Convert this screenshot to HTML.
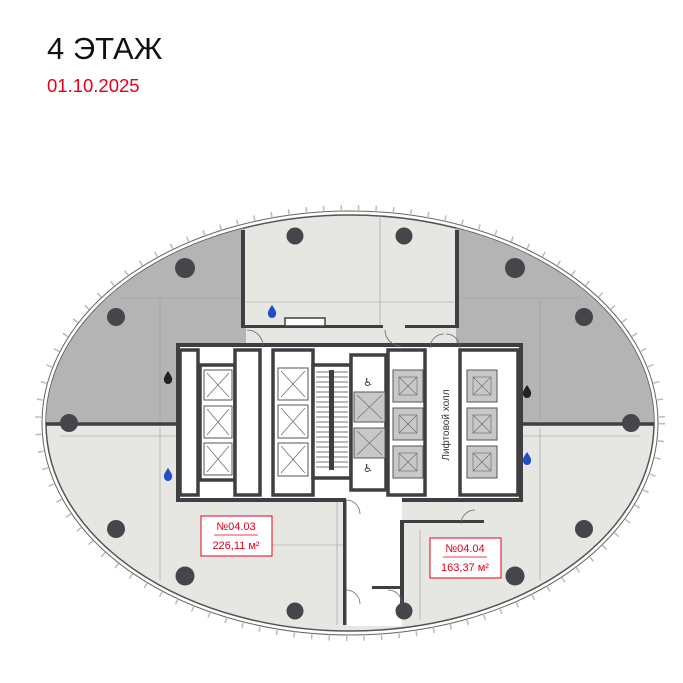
<!DOCTYPE html>
<html><head><meta charset="utf-8">
<style>
html,body{margin:0;padding:0;background:#fff;width:683px;height:683px;overflow:hidden}
.t{position:absolute;left:47px;top:31px;font:31px "Liberation Sans",sans-serif;color:#111}
.d{position:absolute;left:47px;top:75px;font:18.5px "Liberation Sans",sans-serif;color:#e3001b}
svg{position:absolute;left:0;top:0}
</style></head><body>
<div class="t">4 ЭТАЖ</div>
<div class="d">01.10.2025</div>
<svg width="683" height="683" viewBox="0 0 683 683">
<defs>
<clipPath id="el"><ellipse cx="350" cy="423" rx="304" ry="208"/></clipPath>
</defs>
<ellipse cx="350" cy="423" rx="308" ry="212" fill="none" stroke="#666" stroke-width="1"/>
<ellipse cx="350" cy="423" rx="312" ry="215" fill="none" stroke="#bbb" stroke-width="6" stroke-dasharray="1.5 16"/>
<ellipse cx="350" cy="423" rx="304" ry="208" fill="#e6e7e3" stroke="#555" stroke-width="1.5"/>
<g clip-path="url(#el)">
<polygon points="40,200 243,200 243,327 246,327 246,347 180,347 180,424 40,424" fill="#b4b4b4"/>
<polygon points="456,200 660,200 660,424 520,424 520,347 456,347" fill="#b4b4b4"/>
<line x1="40" y1="424" x2="180" y2="424" stroke="#3f3f42" stroke-width="3.5"/>
<line x1="520" y1="424" x2="660" y2="424" stroke="#3f3f42" stroke-width="3.5"/>
<g stroke="#999" stroke-width="0.6" fill="none">
<line x1="120" y1="298" x2="240" y2="298"/><line x1="160" y1="300" x2="160" y2="420"/>
<line x1="460" y1="298" x2="580" y2="298"/><line x1="540" y1="300" x2="540" y2="420"/>
<line x1="60" y1="436" x2="178" y2="436"/><line x1="520" y1="436" x2="640" y2="436"/>
<line x1="160" y1="428" x2="160" y2="580"/><line x1="540" y1="428" x2="540" y2="580"/>
<line x1="246" y1="302" x2="454" y2="302"/><line x1="380" y1="215" x2="380" y2="325"/>
<line x1="337" y1="500" x2="337" y2="625"/><line x1="420" y1="530" x2="420" y2="620"/>
<line x1="260" y1="545" x2="345" y2="545"/>
</g>
</g>
<rect x="241" y="230" width="4" height="98" fill="#3f3f42"/>
<rect x="455" y="230" width="4" height="98" fill="#3f3f42"/>
<rect x="243" y="325" width="140" height="3" fill="#3f3f42"/>
<rect x="405" y="325" width="52" height="3" fill="#3f3f42"/>
<rect x="285" y="318" width="40" height="8" fill="#fff" stroke="#3f3f42" stroke-width="1.5"/>
<rect x="178" y="345" width="343" height="155" fill="#fff" stroke="#3f3f42" stroke-width="4"/>
<rect x="346" y="498" width="56" height="128" fill="#fff"/>
<rect x="343" y="500" width="3.5" height="125" fill="#3f3f42"/>
<rect x="400" y="520" width="4" height="86" fill="#3f3f42"/>
<rect x="400" y="520" width="84" height="3" fill="#3f3f42"/>
<rect x="372" y="586" width="30" height="3" fill="#3f3f42"/>
<g fill="#fff" stroke="#3f3f42" stroke-width="3.5">
<rect x="180" y="350" width="18" height="145"/>
<rect x="200" y="365" width="35" height="115"/>
<rect x="235" y="350" width="25" height="145"/>
<rect x="273" y="350" width="40" height="145"/>
<rect x="313" y="365" width="38" height="113"/>
<rect x="351" y="355" width="35" height="135"/>
<rect x="388" y="350" width="37" height="145"/>
<rect x="460" y="350" width="58" height="145"/>
</g>
<g fill="#fff" stroke="#555" stroke-width="1">
<rect x="204" y="370" width="28" height="30"/><rect x="204" y="406" width="28" height="32"/><rect x="204" y="443" width="28" height="32"/>
<rect x="278" y="368" width="30" height="32"/><rect x="278" y="405" width="30" height="33"/><rect x="278" y="443" width="30" height="33"/>
</g>
<g stroke="#666" stroke-width="0.7">
<path d="M207 373L229 397M229 373L207 397M207 409L229 435M229 409L207 435M207 446L229 472M229 446L207 472"/>
<path d="M281 371L305 397M305 371L281 397M281 408L305 435M305 408L281 435M281 446L305 473M305 446L281 473"/>
</g>
<g stroke="#444" stroke-width="0.8">
<path d="M316 372H348M316 377H348M316 382H348M316 387H348M316 392H348M316 397H348M316 402H348M316 407H348M316 412H348M316 417H348M316 422H348M316 427H348M316 432H348M316 437H348M316 442H348M316 447H348M316 452H348M316 457H348M316 462H348M316 467H348"/>
</g>
<rect x="329" y="370" width="5" height="100" fill="#3f3f42"/>
<g fill="#c8c8c8" stroke="#555" stroke-width="1">
<rect x="354" y="392" width="31" height="30"/><rect x="354" y="428" width="31" height="30"/>
<rect x="393" y="370" width="30" height="32"/><rect x="393" y="408" width="30" height="32"/><rect x="393" y="446" width="30" height="32"/>
<rect x="467" y="370" width="30" height="32"/><rect x="467" y="408" width="30" height="32"/><rect x="467" y="446" width="30" height="32"/>
</g>
<g fill="none" stroke="#666" stroke-width="0.6">
<rect x="399" y="377" width="18" height="18"/><rect x="399" y="415" width="18" height="18"/><rect x="399" y="453" width="18" height="18"/>
<rect x="473" y="377" width="18" height="18"/><rect x="473" y="415" width="18" height="18"/><rect x="473" y="453" width="18" height="18"/>
<path d="M399 377L417 395M417 377L399 395M399 415L417 433M417 415L399 433M399 453L417 471M417 453L399 471M473 377L491 395M491 377L473 395M473 415L491 433M491 415L473 433M473 453L491 471M491 453L473 471M357 395L382 419M382 395L357 419M357 431L382 455M382 431L357 455"/>
</g>
<text x="368" y="386" font-size="11" text-anchor="middle" fill="#333" font-family="DejaVu Sans">♿</text>
<text x="368" y="472" font-size="11" text-anchor="middle" fill="#333" font-family="DejaVu Sans">♿</text>
<text transform="translate(449,425) rotate(-90)" font-size="10" text-anchor="middle" fill="#333" font-family="Liberation Sans, sans-serif">Лифтовой холл</text>
<g fill="none" stroke="#666" stroke-width="0.8">
<path d="M247 330 A16 16 0 0 1 263 346"/><path d="M385 330 A16 16 0 0 0 401 346"/>
<path d="M430 348 A14 14 0 0 1 444 334"/><path d="M460 348 A14 14 0 0 0 446 334"/>
<path d="M346 500 A14 14 0 0 1 360 514"/><path d="M475 510 A14 14 0 0 0 461 524"/>
<path d="M402 604 A14 14 0 0 0 388 590"/><path d="M346 590 A14 14 0 0 1 360 604"/>
</g>
<g fill="#46464a">
<circle cx="295" cy="236" r="8.5"/><circle cx="404" cy="236" r="8.5"/>
<circle cx="185" cy="268" r="10"/><circle cx="515" cy="268" r="10"/>
<circle cx="116" cy="317" r="9"/><circle cx="584" cy="317" r="9"/>
<circle cx="69" cy="423" r="9"/><circle cx="631" cy="423" r="9"/>
<circle cx="116" cy="529" r="9"/><circle cx="584" cy="529" r="9"/>
<circle cx="185" cy="576" r="9.5"/><circle cx="515" cy="576" r="9.5"/>
<circle cx="295" cy="611" r="8.5"/><circle cx="404" cy="611" r="8.5"/>
</g>
<g>
<path d="M272 305 q-5 7 -4 9 a4 4 0 0 0 8 0 q1 -2 -4 -9z" fill="#1f4fc7"/>
<path d="M168 468 q-5 7 -4 9 a4 4 0 0 0 8 0 q1 -2 -4 -9z" fill="#1f4fc7"/>
<path d="M527 452 q-5 7 -4 9 a4 4 0 0 0 8 0 q1 -2 -4 -9z" fill="#1f4fc7"/>
<path d="M168 371 q-5 7 -4 9 a4 4 0 0 0 8 0 q1 -2 -4 -9z" fill="#222"/>
<path d="M527 385 q-5 7 -4 9 a4 4 0 0 0 8 0 q1 -2 -4 -9z" fill="#222"/>
</g>
<g font-family="Liberation Sans, sans-serif" font-size="11" fill="#e3001b" text-anchor="middle">
<rect x="201" y="516" width="71" height="40" fill="#fff" stroke="#e3001b" stroke-width="1"/>
<text x="236" y="530">№04.03</text>
<line x1="214" y1="535" x2="258" y2="535" stroke="#e3001b" stroke-width="0.8"/>
<text x="236" y="549">226,11 м²</text>
<rect x="430" y="538" width="71" height="40" fill="#fff" stroke="#e3001b" stroke-width="1"/>
<text x="465" y="552">№04.04</text>
<line x1="443" y1="557" x2="487" y2="557" stroke="#e3001b" stroke-width="0.8"/>
<text x="465" y="571">163,37 м²</text>
</g>
</svg>
</body></html>
